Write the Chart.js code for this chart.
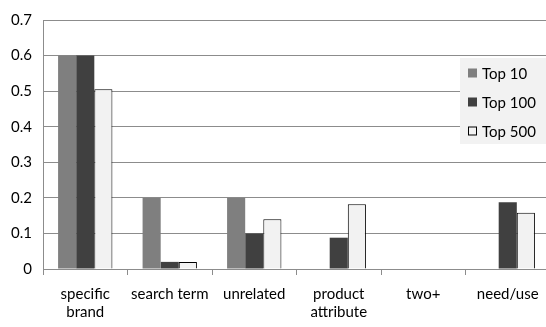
<!DOCTYPE html>
<html>
<head>
<meta charset="utf-8">
<script src="https://cdn.jsdelivr.net/npm/chart.js@4.4.0/dist/chart.umd.min.js"></script>
<style>
  html, body { margin: 0; padding: 0; background: #fff; overflow: hidden; }
  #wrap { width: 550px; height: 327px; }
</style>
</head>
<body>
<div id="wrap"><canvas id="c" width="550" height="327"></canvas></div>
<script>
// Query categories (multi-line labels as arrays)
const categories = [
  ['specific', 'brand'],
  'search term',
  'unrelated',
  ['product', 'attribute'],
  'two+',
  'need/use'
];

// Share of ads in each category, per result-set size
const top10  = [0.6, 0.2, 0.2, 0, 0, 0];
const top100 = [0.6, 0.02, 0.1, 0.088, 0, 0.188];
const top500 = [0.505, 0.02, 0.14, 0.182, 0, 0.158];

const seriesNames = ['Top 10', 'Top 100', 'Top 500'];
const yTicks = [0, 0.1, 0.2, 0.3, 0.4, 0.5, 0.6, 0.7];

const FONT = 'Lato, "Liberation Sans", sans-serif';
const GRID = '#8c8c8c';

// Legend drawn inside the plot, over the gridlines, on a light panel
const boxLegend = {
  id: 'boxLegend',
  afterDatasetsDraw(chart) {
    const ctx = chart.ctx;
    const x0 = 460, y0 = 58, w = 86, h = 86;
    ctx.save();
    ctx.fillStyle = '#f2f2f2';
    ctx.fillRect(x0, y0, w, h);
    ctx.font = '15px ' + FONT;
    ctx.textBaseline = 'middle';
    ctx.textAlign = 'left';
    chart.data.datasets.forEach((ds, i) => {
      const cy = y0 + 15 + i * 29;
      ctx.fillStyle = ds.backgroundColor;
      ctx.fillRect(468, cy - 4.5, 9, 9);
      if (ds.borderWidth) {
        ctx.strokeStyle = ds.borderColor;
        ctx.lineWidth = 1;
        ctx.strokeRect(468.5, cy - 4, 8, 8);
      }
      ctx.fillStyle = '#000';
      ctx.fillText(ds.label, 482, cy + 1);
    });
    ctx.restore();
  }
};

new Chart(document.getElementById('c'), {
  type: 'bar',
  data: {
    labels: categories,
    datasets: [
      { label: seriesNames[0], data: top10,  backgroundColor: '#7f7f7f', borderWidth: 0 },
      { label: seriesNames[1], data: top100, backgroundColor: '#404040', borderWidth: 0 },
      { label: seriesNames[2], data: top500, backgroundColor: '#f2f2f2', borderColor: '#000', borderWidth: 1, borderSkipped: 'bottom' }
    ]
  },
  options: {
    responsive: false,
    animation: false,
    devicePixelRatio: 1,
    layout: { padding: { top: 12, right: 0, bottom: 0, left: 0 } },
    datasets: { bar: { categoryPercentage: 0.643, barPercentage: 1 } },
    plugins: {
      legend: { display: false },
      tooltip: { enabled: false }
    },
    scales: {
      x: {
        offset: true,
        grid: {
          offset: true,
          drawOnChartArea: false,
          drawTicks: true,
          tickLength: 6,
          color: GRID
        },
        border: { color: GRID, width: 1 },
        ticks: {
          color: '#000',
          font: { family: FONT, size: 15, lineHeight: 1.2 },
          maxRotation: 0,
          autoSkip: false,
          padding: 10
        },
        afterFit(scale) { scale.height = 58; }
      },
      y: {
        min: 0,
        max: 0.7,
        afterBuildTicks(scale) { scale.ticks = yTicks.map(v => ({ value: v })); },
        grid: { color: GRID, drawTicks: false },
        border: { color: GRID, width: 1 },
        ticks: {
          color: '#000',
          font: { family: FONT, size: 15 },
          padding: 11,
          callback: v => String(v)
        },
        afterFit(scale) { scale.width = 43; }
      }
    }
  },
  plugins: [boxLegend]
});
</script>
</body>
</html>
